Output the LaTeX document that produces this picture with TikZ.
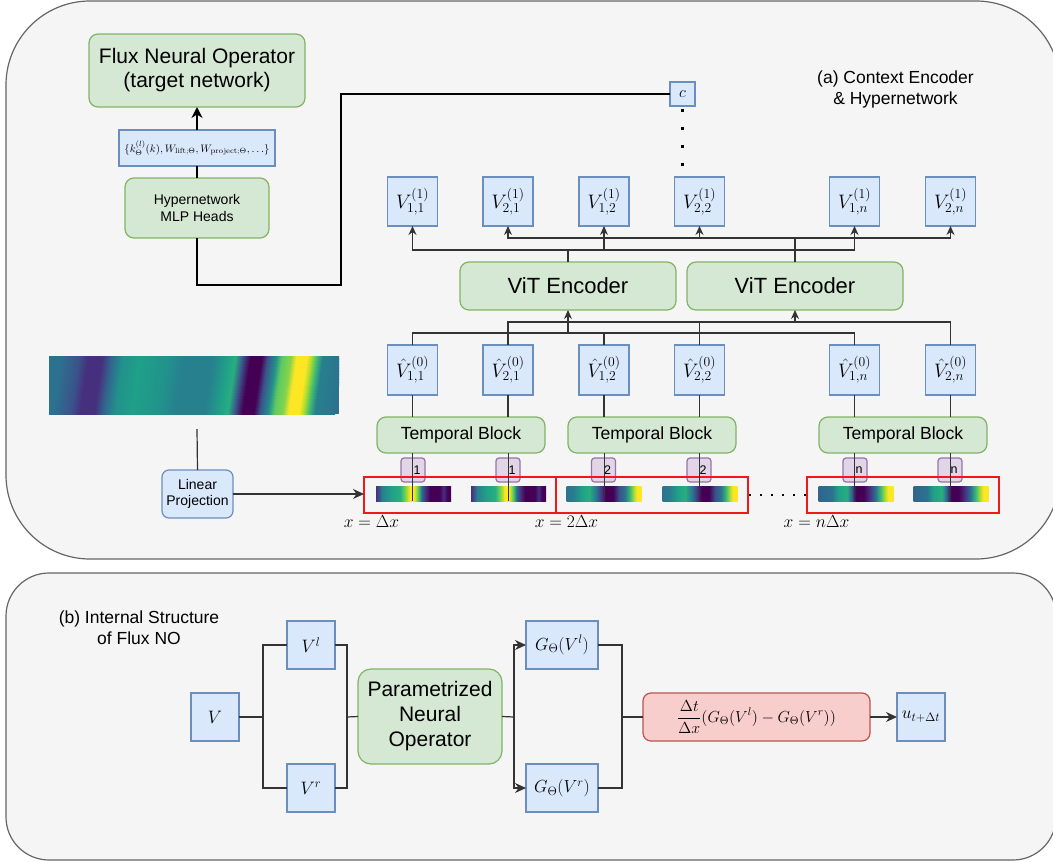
\RequirePackage{fix-cm}
\documentclass[tikz,border=0pt]{standalone}
\usepackage[no-math]{fontspec}
\newfontfamily\hv{Liberation Sans}
\usetikzlibrary{arrows.meta}
\newcommand\myfs[2]{\fontsize{#1}{#2}\selectfont}

% box colours
\definecolor{bluef}{HTML}{DAE8FC}\definecolor{bluel}{HTML}{6C8EBF}
\definecolor{greenf}{HTML}{D5E8D4}\definecolor{greenl}{HTML}{82B366}
\definecolor{purpf}{HTML}{E1D5E7}\definecolor{purpl}{HTML}{9673A6}
\definecolor{redf}{HTML}{F8CECC}\definecolor{redl}{HTML}{B85450}
\definecolor{panelf}{HTML}{F5F5F5}\definecolor{panell}{HTML}{666666}
\definecolor{wirec}{HTML}{333333}\definecolor{pred}{HTML}{F01818}

% viridis palette
\definecolor{vA}{HTML}{440154}\definecolor{vB}{HTML}{46307E}
\definecolor{vC}{HTML}{3B528B}\definecolor{vD}{HTML}{33638D}
\definecolor{vE}{HTML}{2C728E}\definecolor{vF}{HTML}{27808E}
\definecolor{vG}{HTML}{21918C}\definecolor{vH}{HTML}{1FA088}
\definecolor{vI}{HTML}{28AE80}\definecolor{vJ}{HTML}{3FBC73}
\definecolor{vK}{HTML}{5EC962}\definecolor{vL}{HTML}{84D44B}
\definecolor{vM}{HTML}{B5DE2B}\definecolor{vN}{HTML}{FDE725}

% solution field strip
\pgfdeclarehorizontalshading{heat}{100bp}{color(0bp)=(vE); color(25bp)=(vE);
 color(26.25bp)=(vE); color(29.5bp)=(vC); color(31bp)=(vB); color(33.5bp)=(vB);
 color(35bp)=(vD); color(37bp)=(vG); color(40bp)=(vH); color(45bp)=(vG);
 color(47.5bp)=(vF); color(52.5bp)=(vF); color(55bp)=(vH); color(56.5bp)=(vI);
 color(57.75bp)=(vC); color(59bp)=(vA); color(61bp)=(vA); color(62bp)=(vC);
 color(63.5bp)=(vG); color(64.5bp)=(vK); color(66bp)=(vL); color(67bp)=(vN);
 color(68.75bp)=(vN); color(69.5bp)=(vM); color(70.5bp)=(vJ); color(71.5bp)=(vF);
 color(75bp)=(vE); color(100bp)=(vE)}
% patch strips
\pgfdeclarehorizontalshading{patchA}{100bp}{color(0bp)=(vB); color(25bp)=(vB);
 color(27bp)=(vC); color(29bp)=(vF); color(35bp)=(vH); color(41bp)=(vI);
 color(43.5bp)=(vK); color(46bp)=(vM); color(47.5bp)=(vN); color(50bp)=(vN);
 color(51.5bp)=(vM); color(53.5bp)=(vJ); color(55.5bp)=(vD); color(58bp)=(vB);
 color(61bp)=(vA); color(67.5bp)=(vA); color(70bp)=(vB); color(72.5bp)=(vA);
 color(75bp)=(vA); color(100bp)=(vA)}
\pgfdeclarehorizontalshading{patchB}{100bp}{color(0bp)=(vE); color(25bp)=(vE);
 color(30bp)=(vF); color(35bp)=(vH); color(40bp)=(vI); color(45bp)=(vE);
 color(48.5bp)=(vB); color(51bp)=(vA); color(56bp)=(vA); color(60bp)=(vC);
 color(64bp)=(vE); color(67.5bp)=(vJ); color(70bp)=(vM); color(72bp)=(vN);
 color(75bp)=(vN); color(100bp)=(vN)}
\pgfdeclarehorizontalshading{patchC}{100bp}{color(0bp)=(vD); color(25bp)=(vD);
 color(34bp)=(vE); color(38bp)=(vH); color(44bp)=(vI); color(47bp)=(vD);
 color(50bp)=(vA); color(55bp)=(vA); color(59bp)=(vB); color(63bp)=(vE);
 color(66.5bp)=(vJ); color(69.5bp)=(vM); color(71.5bp)=(vN); color(75bp)=(vN);
 color(100bp)=(vN)}

\begin{document}
\begin{tikzpicture}[x=1pt,y=-1pt,
  every node/.style={inner sep=0pt, outer sep=0pt},
  panel/.style={draw=panell, fill=panelf, line width=1.2},
  vbox/.style={draw=bluel, fill=bluef, line width=1.2, minimum width=50, minimum height=49},
  gbox/.style={draw=greenl, fill=greenf, line width=1.2, rounded corners=9},
  posbox/.style={draw=purpl, fill=purpf, line width=1.2, rounded corners=3,
    minimum width=24, minimum height=24, font=\hv\myfs{12.5}{14}},
  rbox/.style={draw=redl, fill=redf, line width=1.2, rounded corners=8},
  patchframe/.style={draw=pred, line width=1.3, minimum width=192, minimum height=36},
  patch/.style={shade, minimum width=75, minimum height=15},
  wire/.style={draw=wirec, line width=1.2},
  arr/.style={wire, -{Stealth[length=9,width=8]}},
  barr/.style={wire, line width=1.4, -{Stealth[length=11,width=10]}},
  heavy/.style={draw=black, line width=2.8},
  lab/.style={font=\hv\myfs{17.5}{21}, align=center},
  vm/.style={font=\myfs{19.5}{22}},
  bm/.style={font=\myfs{18}{20}},
]
\useasboundingbox (0,0) rectangle (1053,862);
\clip (0,0) rectangle (1053,862);

% ---------- panels ----------
\path[panel, rounded corners=84] (6,1) rectangle (1060,559);
\path[panel, rounded corners=43] (6,573) rectangle (1056,860);

% ---------- (a) context encoder & hypernetwork ----------
\node[gbox, minimum width=216, minimum height=73, font=\hv\myfs{21}{24}, align=center]
  (flux) at (197,70.5) {Flux Neural Operator\\(target network)};
\node[vbox, minimum width=156, minimum height=36, font=\myfs{10.8}{13}]
  (theta) at (197,148) {$\{k^{(l)}_{\Theta}(k), W_{\mathrm{lift};\Theta}, W_{\mathrm{project};\Theta},\dots\}$};
\node[gbox, minimum width=144, minimum height=60, font=\hv\myfs{14}{16.7}, align=center]
  (hyper) at (197,208) {Hypernetwork\\MLP Heads};
\node[vbox, minimum width=25, minimum height=24, font=\myfs{16}{18}] (ctx) at (682.5,94) {$c$};
\node[lab] (alab) at (895.5,89.5) {(a) Context Encoder\\\& Hypernetwork};

% first-level tokens
\node[vbox, vm] (v11) at (412.5,201.5) {$V^{(1)}_{1,1}$};
\node[vbox, vm] (v21) at (508,201.5) {$V^{(1)}_{2,1}$};
\node[vbox, vm] (v12) at (604,201.5) {$V^{(1)}_{1,2}$};
\node[vbox, vm] (v22) at (699.5,201.5) {$V^{(1)}_{2,2}$};
\node[vbox, vm] (v1n) at (854.5,201.5) {$V^{(1)}_{1,n}$};
\node[vbox, vm] (v2n) at (950.5,201.5) {$V^{(1)}_{2,n}$};

% encoders
\node[gbox, minimum width=216, minimum height=48, font=\hv\myfs{22}{26}] (vit1) at (568,286) {ViT Encoder};
\node[gbox, minimum width=216, minimum height=48, font=\hv\myfs{22}{26}] (vit2) at (795,286) {ViT Encoder};

% zeroth-level tokens
\node[vbox, vm, minimum height=50] (h11) at (412.5,370) {$\hat{V}^{(0)}_{1,1}$};
\node[vbox, vm, minimum height=50] (h21) at (508,370) {$\hat{V}^{(0)}_{2,1}$};
\node[vbox, vm, minimum height=50] (h12) at (604,370) {$\hat{V}^{(0)}_{1,2}$};
\node[vbox, vm, minimum height=50] (h22) at (699.5,370) {$\hat{V}^{(0)}_{2,2}$};
\node[vbox, vm, minimum height=50] (h1n) at (854.5,370) {$\hat{V}^{(0)}_{1,n}$};
\node[vbox, vm, minimum height=50] (h2n) at (950.5,370) {$\hat{V}^{(0)}_{2,n}$};

% temporal blocks
\node[gbox, minimum width=168, minimum height=36, font=\hv\myfs{17.6}{20}] (tb1) at (461,435) {Temporal Block};
\node[gbox, minimum width=168, minimum height=36, font=\hv\myfs{17.6}{20}] (tb2) at (652,435) {Temporal Block};
\node[gbox, minimum width=168, minimum height=36, font=\hv\myfs{17.6}{20}] (tb3) at (903,435) {Temporal Block};

% patches
\node[patch, shading=patchA] (p1) at (413.5,493.5) {};
\node[patch, shading=patchA] (p2) at (508.5,493.5) {};
\node[patch, shading=patchB] (p3) at (604,493.5) {};
\node[patch, shading=patchB] (p4) at (700,493.5) {};
\node[patch, shading=patchC] (p5) at (856,493.5) {};
\node[patch, shading=patchC] (p6) at (951,493.5) {};

% position embeddings
\node[posbox] (e1) at (413,470) {\hspace*{8pt}1};
\node[posbox] (e2) at (508,470) {\hspace*{8pt}1};
\node[posbox] (e3) at (603.5,470) {\hspace*{8pt}2};
\node[posbox] (e4) at (699,470) {\hspace*{8pt}2};
\node[posbox] (e5) at (855,470) {\hspace*{8pt}n};
\node[posbox] (e6) at (950,470) {\hspace*{8pt}n};

% spatial cells
\node[patchframe] (f1) at (460,495) {};
\node[patchframe] (f2) at (652,495) {};
\node[patchframe] (f3) at (903,495) {};
\node[font=\myfs{17.5}{19}] (xl1) at (371.5,522) {$x=\Delta x$};
\node[font=\myfs{17.5}{19}] (xl2) at (566.5,522) {$x=2\Delta x$};
\node[font=\myfs{17.5}{19}] (xl3) at (816.5,522) {$x=n\Delta x$};

% input field
\fill[vE] (49,356) rectangle (339,414);
\begin{scope}
  \clip (49,356) rectangle (339,414);
  \foreach \i in {0,...,19}{
    \pgfmathsetmacro\xa{53-8*\i/19}
    \pgfmathsetmacro\xb{\xa+290}
    \pgfmathsetmacro\ya{356+2.9*\i}
    \pgfmathsetmacro\yb{\ya+3.5}
    \shade[shading=heat] (\xa,\ya) rectangle (\xb,\yb);
  }
\end{scope}
\coordinate (hmfoot) at (197,429);
\node[draw=bluel, fill=bluef, line width=1.2, rounded corners=7, minimum width=71,
  minimum height=48, font=\hv\myfs{14}{16.5}, align=center] (lp) at (197.5,494) {Linear\\Projection};

% ---------- (a) connectors ----------
\draw[heavy] (hyper.north) -- (theta.south);
\draw[draw=black, line width=2, -{Stealth[length=11,width=11]}] (theta.north) -- (flux.south);
\coordinate (bend) at (341,285);
\draw[heavy] (hyper.south) |- (bend) |- (ctx.west);
\coordinate (cdots) at (682.5,168);
\draw[draw=black, line width=3, dash pattern=on 3 off 15, dash phase=15.5] (ctx.south) -- (cdots);

\coordinate (busA) at (0,250);
\coordinate (busB) at (0,238);
\coordinate (busC) at (0,333);
\coordinate (busD) at (0,322);
\foreach \t in {v11,v12,v1n}{\draw[arr] (vit1.north) |- (busA -| \t) -- (\t.south);}
\foreach \t in {v21,v22,v2n}{\draw[arr] (vit2.north) |- (busB -| \t) -- (\t.south);}
\foreach \s in {h11,h12,h1n}{\draw[wire] (\s.north) |- (busC -| vit1);}
\foreach \s in {h21,h22,h2n}{\draw[wire] (\s.north) |- (busD -| vit2);}
\draw[arr] (busC -| vit1) -- (vit1.south);
\draw[arr] (busD -| vit2) -- (vit2.south);

\foreach \s/\b/\p in {h11/tb1/p1,h21/tb1/p2,h12/tb2/p3,h22/tb2/p4,h1n/tb3/p5,h2n/tb3/p6}{
  \draw[wire] (\s.south) -- (\s.south |- \b.north);
  \draw[wire, line width=1] (\s.south |- \b.south) -- (\s.south |- \p.south);
}
\draw[wire] (hmfoot) -- (lp.north);
\draw[barr] (lp.east) -- (lp.east -| f1.west);
\draw[draw=black, line width=2.2, dash pattern=on 2.2 off 8.8, dash phase=10] (f2.east) -- (f3.west);

% ---------- (b) internal structure of Flux NO ----------
\node[lab] (blab) at (139,627.5) {(b) Internal Structure\\of Flux NO};
\node[vbox, bm, minimum width=48, minimum height=48] (V) at (215,717) {$V$};
\node[vbox, bm, minimum width=48, minimum height=48] (Vl) at (311,645) {$V^{l}$};
\node[vbox, bm, minimum width=48, minimum height=48] (Vr) at (311,788) {$V^{r}$};
\node[gbox, minimum width=144, minimum height=95, rounded corners=13, font=\hv\myfs{21}{25}, align=center]
  (pno) at (430,716.5) {Parametrized\\Neural\\Operator};
\node[vbox, minimum width=72, minimum height=48, font=\myfs{17.5}{20}] (Gl) at (562,645) {$G_{\Theta}(V^{l})$};
\node[vbox, minimum width=72, minimum height=48, font=\myfs{17.5}{20}] (Gr) at (562,788) {$G_{\Theta}(V^{r})$};
\node[rbox, minimum width=227, minimum height=48, font=\myfs{16}{19}]
  (upd) at (756.5,717) {$\displaystyle\frac{\Delta t}{\Delta x}(G_{\Theta}(V^{l})-G_{\Theta}(V^{r}))$};
\node[vbox, minimum width=48, minimum height=48, font=\myfs{17.5}{20}] (u) at (921,717) {$u_{t+\Delta t}$};

\coordinate (j1) at (263,717);
\coordinate (j2) at (347,717);
\coordinate (j3) at (514,717);
\coordinate (j4) at (622,717);
\draw[wire] (V.east) -- (j1);
\draw[wire] (j1) |- (Vl.west);
\draw[wire] (j1) |- (Vr.west);
\draw[wire] (Vl.east) -| (j2);
\draw[wire] (Vr.east) -| (j2);
\draw[wire] (j2) -- (pno.west);
\draw[wire] (pno.east) -- (j3);
\draw[barr] (j3) |- (Gl.west);
\draw[barr] (j3) |- (Gr.west);
\draw[wire] (Gl.east) -| (j4);
\draw[wire] (Gr.east) -| (j4);
\draw[wire] (j4) -- (upd.west);
\draw[barr] (upd.east) -- (u.west);
\end{tikzpicture}
\end{document}
